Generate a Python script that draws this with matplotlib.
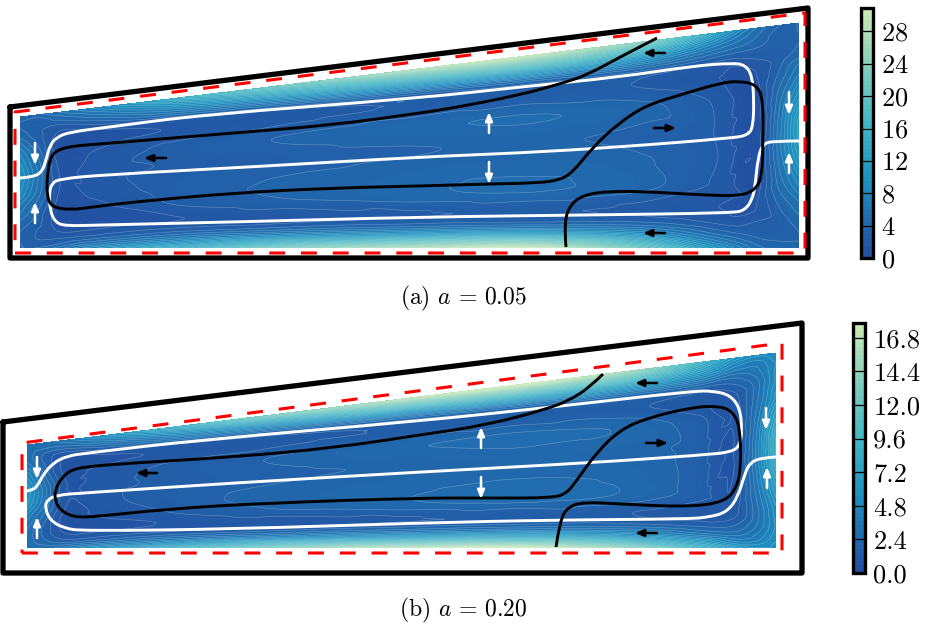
import numpy as np
import matplotlib
matplotlib.use("Agg")
import matplotlib.pyplot as plt
import matplotlib.tri as mtri
from matplotlib.colors import ListedColormap
from matplotlib.path import Path
from matplotlib.patches import PathPatch

plt.rcParams['font.family'] = ['cmr10', 'DejaVu Serif']
plt.rcParams['mathtext.fontset'] = 'cm'
plt.rcParams['axes.unicode_minus'] = False
plt.rcParams['axes.formatter.use_mathtext'] = True

# grid of the speed field: fractions along and across the duct
xi = [0, .02, .05, .09, .2, .35, .5, .65, .8, .9, .945, .975, 1]
eta = [0, .03, .07, .12, .18, .3, .42, .55, .68, .8, .86, .91, .96, 1]

# one row per xi, bottom wall to top wall
speed_a = [
    [3.5, 3.5, 3.5, 3.5, 4, 6, 8.5, 9.5, 8, 5.5, 4, 3.5, 3.5, 3.5],
    [3.5, 3, 2.5, 2.5, 3, 4, 5.5, 6, 5, 3.5, 3, 3, 3, 4],
    [5, 3.5, 2.5, 1.5, 1, 1, 1.5, 1.5, 1, 1, 1.5, 2.5, 4, 5.5],
    [8, 5.5, 3.2, 1.7, 1, 1.2, 1.8, 2, 1.5, 1, 1.7, 3.4, 5.5, 7.5],
    [14, 10, 6, 3, 1.5, 2.6, 3, 2.6, 2.8, 1.6, 2.5, 6, 10, 14],
    [22, 16, 9, 4, 2, 3.5, 3.6, 3, 3.6, 2.2, 3, 8, 15, 21],
    [27, 20, 11, 4.5, 2.4, 4.2, 4, 3.4, 4.2, 2.6, 3.5, 10, 19, 27],
    [30, 22, 12, 4.5, 2.6, 4.6, 4.2, 3.6, 4.6, 2.9, 4, 11, 21, 29],
    [20, 15, 8.5, 3.8, 2.2, 3.8, 3.6, 3.2, 3.8, 2.4, 3.5, 8.5, 16, 23],
    [9, 6.5, 4, 2.2, 1.5, 2.2, 2.4, 2.3, 2.2, 1.5, 2.2, 4.5, 7.5, 11],
    [5, 4, 3, 2.5, 1.5, 1, .8, .8, 1, 1.5, 2.5, 3.5, 4.5, 5.5],
    [4, 3.5, 3, 3, 3.5, 5, 6, 6, 5, 3.5, 3, 3, 3, 3.5],
    [3.5, 3.5, 3.5, 4, 5, 8, 11, 12, 9, 6, 4, 3.5, 3.5, 3.5],
]
speed_b = [
    [3, 3, 3, 3, 3.2, 4, 5.5, 6, 5, 3.5, 3, 3, 3, 3],
    [3, 2.6, 2.2, 2, 2, 2.6, 3.5, 3.8, 3, 2.2, 2, 2.2, 2.8, 3],
    [3.5, 2.6, 1.6, 1, .7, .7, 1, 1, .8, .7, 1, 1.8, 2.8, 3.5],
    [5, 3.5, 2, 1.1, .7, .9, 1.2, 1.2, 1, .7, 1.1, 2.2, 3.7, 5],
    [8.5, 6, 3.6, 1.8, 1, 1.5, 1.8, 1.6, 1.6, 1, 1.5, 3.6, 6, 8.5],
    [13, 9.5, 5.2, 2.4, 1.2, 2.1, 2.2, 1.9, 2.1, 1.3, 1.9, 4.8, 9, 13],
    [16, 11.5, 6.5, 2.8, 1.4, 2.5, 2.4, 2.1, 2.5, 1.5, 2.2, 6, 11.5, 16],
    [17.5, 12.5, 7.2, 3, 1.5, 2.8, 2.6, 2.3, 2.8, 1.7, 2.5, 6.8, 12.5, 17.5],
    [14, 10, 5.8, 2.6, 1.5, 2.5, 2.4, 2.2, 2.5, 1.6, 2.4, 6, 11, 15],
    [9, 6.5, 3.6, 1.9, 1.1, 1.7, 1.7, 1.7, 1.6, 1.1, 1.9, 4.2, 7, 9],
    [6.5, 4.5, 3, 2, 1.3, 1, .9, .9, 1, 1.3, 2, 3, 4.5, 6],
    [5.5, 4.5, 3.8, 3.2, 3, 3.5, 4, 4, 3.5, 3, 3, 3.5, 4, 5],
    [5.5, 5.5, 5.2, 5, 5.2, 6.5, 8, 8.5, 7, 5.5, 5, 5, 5, 5],
]

# duct corners: left, right, bottom, top at left, top at right
domain_a = [20, 799, 248, 117, 23]
domain_b = [27, 776, 548, 445, 353]

outer_a_x = [10, 808, 808, 10, 10]
outer_a_y = [107, 8, 258, 258, 107]
outer_b_x = [3, 802, 802, 3, 3]
outer_b_y = [422, 323, 573, 573, 422]

red_a_x = [15, 805, 805, 15, 15]
red_a_y = [253, 253, 13, 112, 253]
red_b_x = [22, 782, 782, 22, 22]
red_b_y = [553, 553, 343, 443, 553]

white_a_x = [20, 33, 42, 46, 50, 57, 70, 110, 200, 420, 520, 620, 693, 733, 745, 752, 754, 753, 748, 733, 620,
             520, 420, 267, 100, 60, 52, 49, 50, 55, 65, 100, 233, 420, 587, 733, 745, 752, 755, 758, 763, 773, 800]
white_a_y = [178, 177, 172, 160, 145, 137, 132, 127, 115, 98, 87, 77, 66, 63, 65, 75, 100, 127, 135, 138, 147,
             153, 157, 166, 175, 179, 183, 193, 210, 222, 226, 225, 222, 217, 215, 213, 210, 200, 187, 157, 144, 141, 141]
black_a_x = [657, 620, 587, 563, 520, 453, 420, 333, 233, 100, 73, 57, 50, 47, 47, 52, 70, 93, 133, 233, 333, 420,
             487, 537, 560, 573, 593, 620, 647, 680, 720, 740, 757, 763, 763, 762, 755, 740, 703, 653, 610, 583, 570, 564, 566]
black_a_y = [38, 57, 75, 83, 95, 108, 113, 125, 133, 144, 146, 150, 158, 177, 197, 207, 210, 207, 202, 193, 188, 186,
             184, 183, 180, 172, 147, 122, 105, 95, 83, 81, 85, 100, 140, 177, 190, 196, 195, 192, 191, 195, 205, 223, 247]

white_b_x = [27, 33, 38, 43, 53, 67, 87, 200, 420, 553, 693, 713, 730, 740, 742, 740, 732, 703, 587, 420, 233, 83,
             57, 47, 45, 50, 63, 83, 233, 420, 553, 687, 710, 727, 738, 745, 750, 760, 776]
white_b_y = [491, 490, 485, 475, 463, 456, 453, 440, 421, 407, 391, 391, 395, 408, 430, 445, 452, 455, 463, 472, 483, 493,
             495, 500, 508, 520, 528, 531, 529, 523, 520, 519, 517, 512, 497, 473, 463, 458, 457]
black_b_x = [603, 590, 570, 547, 487, 420, 333, 233, 133, 93, 73, 62, 55, 55, 60, 73, 93, 167, 267, 420, 487, 553,
             567, 577, 597, 620, 647, 693, 720, 733, 740, 741, 737, 725, 687, 620, 583, 568, 560, 556]
black_b_y = [374, 387, 400, 409, 425, 435, 448, 457, 463, 466, 469, 477, 490, 500, 510, 517, 517, 509, 503, 498, 498, 498,
             493, 480, 452, 430, 418, 407, 406, 412, 427, 467, 487, 502, 507, 504, 502, 507, 520, 547]

# arrows: x start, y start, x end, y end
white_arrows_a = [(35, 143, 35, 165), (35, 223, 35, 202), (489, 133, 489, 112),
                  (489, 162, 489, 184), (789, 92, 789, 115), (789, 173, 789, 152)]
black_arrows_a = [(166, 158, 144, 158), (665, 53, 643, 53), (654, 128, 676, 128), (665, 233, 643, 233)]
white_arrows_b = [(37, 457, 37, 479), (37, 538, 37, 517), (481, 448, 481, 427),
                  (481, 477, 481, 499), (766, 408, 766, 430), (767, 488, 767, 467)]
black_arrows_b = [(157, 473, 136, 473), (657, 383, 635, 383), (646, 443, 668, 443), (657, 533, 635, 533)]

ticks_a = [0, 4, 8, 12, 16, 20, 24, 28]
ticks_b = [0.0, 2.4, 4.8, 7.2, 9.6, 12.0, 14.4, 16.8]
top_a = 30.9
top_b = 17.85

W, H = 925, 625
cmap = ListedColormap(plt.get_cmap('YlGnBu_r')(np.linspace(0.2, 0.76, 256)))


def smooth_path(xs, ys):
    # quadratic pieces through the midpoints, so the picked points stay smooth
    pts = np.column_stack([xs, ys]).astype(float)
    verts = [pts[0]]
    codes = [Path.MOVETO]
    for i in range(1, len(pts) - 1):
        end = pts[i + 1] if i == len(pts) - 2 else (pts[i] + pts[i + 1]) / 2
        verts += [pts[i], end]
        codes += [Path.CURVE3, Path.CURVE3]
    return Path(verts, codes)


def draw_arrows(ax, arrows, color):
    for x0, y0, x1, y1 in arrows:
        ax.annotate('', xy=(x1, y1), xytext=(x0, y0), zorder=6,
                    arrowprops=dict(arrowstyle='-|>,head_length=0.36,head_width=0.15', color=color, lw=1.8,
                                    shrinkA=0, shrinkB=0, mutation_scale=14))


def draw_panel(ax, cax, speed, domain, top, ticks, outer, red, white, black, w_arrows, b_arrows, caption, cap_y):
    left, right, bottom, top_l, top_r = domain
    ax.set_xlim(0, W)
    ax.set_ylim(H, 0)
    ax.axis('off')

    xi_grid, eta_grid = np.meshgrid(xi, eta, indexing='ij')
    tri = mtri.Triangulation(xi_grid.ravel(), eta_grid.ravel())
    z = np.array(speed, dtype=float).ravel()
    refiner = mtri.UniformTriRefiner(tri)
    interp = mtri.CubicTriInterpolator(tri, z, kind='geom')
    fine, z_fine = refiner.refine_field(z, triinterpolator=interp, subdiv=4)
    z_fine = np.clip(z_fine, 0.02, top - 0.01)
    # duct coordinates to picture coordinates
    px = left + fine.x * (right - left)
    ptop = top_l + fine.x * (top_r - top_l)
    py = bottom + fine.y * (ptop - bottom)
    mapped = mtri.Triangulation(px, py, fine.triangles)

    levels = np.linspace(0, top, 63)
    cs = ax.tricontourf(mapped, z_fine, levels=levels, cmap=cmap)
    ax.tricontour(mapped, z_fine, levels=levels[1::2], colors='white', linewidths=0.4, alpha=0.3)

    ax.plot(outer[0], outer[1], color='black', lw=3.8, solid_joinstyle='round', solid_capstyle='round', zorder=4)
    ax.plot(red[0], red[1], color='red', lw=2.2, linestyle=(0, (5.2, 5.2)), zorder=4)
    ax.add_patch(PathPatch(smooth_path(*white), fc='none', ec='white', lw=2.1, zorder=5))
    ax.add_patch(PathPatch(smooth_path(*black), fc='none', ec='black', lw=2.1, zorder=5))
    draw_arrows(ax, w_arrows, 'white')
    draw_arrows(ax, b_arrows, 'black')
    ax.text(463, cap_y, caption, ha='center', va='center', fontsize=17)

    cb = plt.colorbar(cs, cax=cax, ticks=ticks)
    cb.outline.set_linewidth(2.4)
    cb.ax.tick_params(direction='in', length=9.5, width=0.9, labelsize=19, pad=6, right=True)
    if isinstance(ticks[1], float):
        cb.ax.set_yticklabels(['%.1f' % t for t in ticks])
    return cs


fig = plt.figure(figsize=(W / 100, H / 100), dpi=100)
ax = fig.add_axes([0, 0, 1, 1])
ax.patch.set_visible(False)


def cbar_axes(x0, x1, y0, y1):
    return fig.add_axes([x0 / W, 1 - y1 / H, (x1 - x0) / W, (y1 - y0) / H])


draw_panel(ax, cbar_axes(861, 873, 8, 258), speed_a, domain_a, top_a, ticks_a,
           (outer_a_x, outer_a_y), (red_a_x, red_a_y), (white_a_x, white_a_y), (black_a_x, black_a_y),
           white_arrows_a, black_arrows_a, r'(a) $a\,=\,0.05$', 298)
draw_panel(ax, cbar_axes(853, 865, 323, 573), speed_b, domain_b, top_b, ticks_b,
           (outer_b_x, outer_b_y), (red_b_x, red_b_y), (white_b_x, white_b_y), (black_b_x, black_b_y),
           white_arrows_b, black_arrows_b, r'(b) $a\,=\,0.20$', 610)

fig.savefig('out.png', dpi=100)
